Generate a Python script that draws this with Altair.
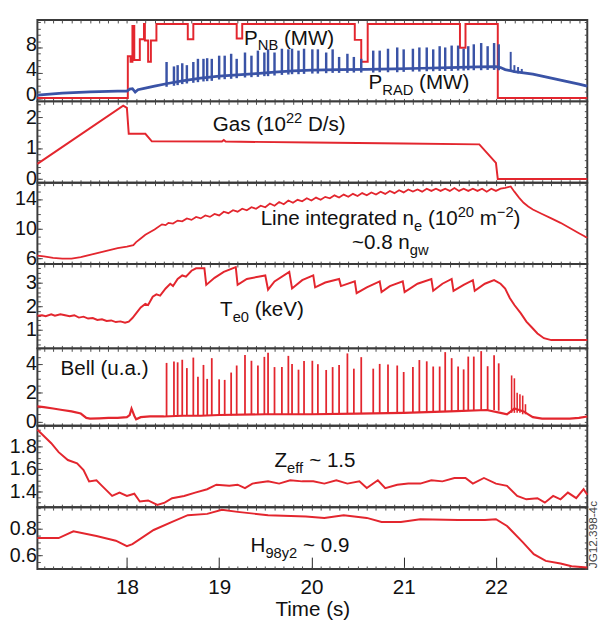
import altair as alt
import pandas as pd

# ---------------- data ----------------
# Panel 1: NBI power (step) and radiated power
pnb_t = [17.03, 18.01, 18.04, 18.06, 18.08, 18.14, 18.185, 18.195, 18.23, 18.26, 18.32,
         18.66, 18.72, 19.19, 19.25, 20.47, 20.54, 20.61, 21.61, 21.67, 22.02, 22.99]
pnb_v = [0.0, 6.6, 5.75, 11.4, 6.0, 9.3, 11.7, 9.1, 5.75, 9.1, 11.7,
         9.3, 11.7, 9.4, 11.7, 9.2, 5.75, 11.7, 7.95, 11.7, 0.0, 0.0]

prad_t = [17.03, 17.3, 17.6, 17.9, 18.0, 18.03, 18.06, 18.09, 18.12, 18.2, 18.3, 18.44, 18.6,
          18.8, 19.0, 19.2, 19.4, 19.6, 19.8, 20.0, 20.3, 20.6, 20.9, 21.2, 21.5, 21.8, 22.0,
          22.05, 22.1, 22.2, 22.3, 22.4, 22.5, 22.6, 22.7, 22.8, 22.9, 22.99]
prad_v = [0.47, 0.79, 0.99, 1.1, 1.1, 1.41, 1.47, 0.94, 1.31, 1.57, 1.88, 2.3, 2.72,
          3.14, 3.46, 3.66, 3.87, 4.08, 4.29, 4.4, 4.5, 4.55, 4.6, 4.71, 4.82, 4.92, 4.97,
          4.82, 4.5, 4.19, 3.98, 3.77, 3.46, 3.14, 2.83, 2.51, 2.2, 1.88]

# ELM times (shared by P_RAD bursts and Bell spikes)
elm_t = [18.43, 18.51, 18.55, 18.60, 18.65, 18.72, 18.77, 18.83, 18.87, 18.92,
         19.00, 19.06, 19.13, 19.19, 19.28, 19.35, 19.42, 19.49, 19.53, 19.60,
         19.68, 19.75, 19.79, 19.86, 19.92, 20.01, 20.07, 20.16, 20.23, 20.30,
         20.39, 20.46, 20.54, 20.67, 20.74, 20.83, 20.93, 21.00, 21.10, 21.17,
         21.25, 21.32, 21.39, 21.45, 21.52, 21.59, 21.65, 21.70, 21.76, 21.84,
         21.91, 21.98, 22.03]
prad_pk = [5.7, 5.0, 5.2, 5.5, 5.2, 5.7, 6.2, 6.2, 6.3, 6.2,
           6.7, 6.7, 7.0, 6.2, 7.2, 6.7, 7.5, 7.2, 7.7, 7.2,
           7.8, 7.7, 7.8, 7.5, 7.8, 7.7, 7.7, 7.2, 7.7, 6.5,
           7.0, 6.5, 6.2, 7.5, 7.5, 7.8, 8.0, 7.7, 7.8, 8.0,
           8.0, 7.7, 8.2, 8.0, 8.3, 8.3, 7.8, 8.2, 8.5, 8.7,
           8.2, 8.7, 8.5]
prad_lo = [1.78, 1.94, 2.04, 2.2, 2.3, 2.41, 2.51, 2.62, 2.67, 2.72,
           2.93, 2.98, 3.04, 3.14, 3.25, 3.3, 3.35, 3.46, 3.46, 3.56,
           3.66, 3.72, 3.77, 3.77, 3.82, 3.87, 3.87, 3.93, 3.98, 3.98,
           3.98, 4.03, 4.03, 4.03, 4.08, 4.08, 4.08, 4.14, 4.19, 4.19,
           4.24, 4.24, 4.29, 4.29, 4.29, 4.35, 4.35, 4.4, 4.4, 4.4,
           4.45, 4.45, 4.4]
prad_tail_t = [22.16, 22.20, 22.24, 22.28]
prad_tail_pk = [7.3, 5.2, 4.9, 4.6]
prad_tail_lo = [4.2, 4.0, 3.9, 3.8]

# Panel 2: gas
gas_t = [17.03, 17.96, 18.00, 18.02, 18.20, 18.27, 19.03, 19.05, 19.07, 20.0, 21.0, 21.82, 22.00, 22.02, 22.99]
gas_v = [0.49, 2.37, 2.30, 1.46, 1.46, 1.22, 1.21, 1.26, 1.21, 1.18, 1.15, 1.12, 0.52, 0.0, 0.0]

# Panel 3: line integrated density (saw-tooth read during the ELMy phase)
ne_t = [17.03, 17.1, 17.2, 17.3, 17.4, 17.5, 17.6, 17.7, 17.8, 17.9, 18.0,
        18.07, 18.1, 18.15, 18.2, 18.3, 18.38, 18.42,
        18.45, 18.5, 18.55, 18.6, 18.65, 18.7, 18.75, 18.8, 18.85, 18.9, 18.95,
        19.0, 19.05, 19.1, 19.15, 19.2, 19.25, 19.3, 19.35, 19.4, 19.45,
        19.5, 19.55, 19.6, 19.65, 19.7, 19.75, 19.8, 19.85, 19.9, 19.95,
        20.0, 20.05, 20.1, 20.15, 20.2, 20.25, 20.3, 20.35, 20.4, 20.45,
        20.5, 20.55, 20.6, 20.65, 20.7, 20.75, 20.8, 20.85, 20.9, 20.95,
        21.0, 21.05, 21.1, 21.15, 21.2, 21.25, 21.3, 21.35, 21.4, 21.45,
        21.5, 21.55, 21.6, 21.65, 21.7, 21.75, 21.8, 21.85, 21.9, 21.95,
        22.0, 22.05, 22.1,
        22.16, 22.2, 22.25, 22.3, 22.35, 22.4, 22.5, 22.6, 22.7, 22.8, 22.9, 22.99]
ne_v = [6.4, 6.3, 6.1, 6.0, 6.0, 6.2, 6.5, 6.8, 7.1, 7.4, 7.6,
        7.8, 8.2, 8.7, 9.2, 9.9, 10.6, 10.5,
        10.8, 10.7, 11.1, 11.0, 11.4, 11.2, 11.6, 11.4, 11.8, 11.6, 12.0,
        11.8, 12.3, 12.1, 12.5, 12.3, 12.7, 12.5, 12.9, 12.7, 13.1,
        12.9, 13.4, 13.1, 13.6, 13.3, 13.8, 13.5, 13.9, 13.7, 14.1,
        13.8, 14.2, 13.9, 14.3, 14.1, 14.5, 14.2, 14.6, 14.3, 14.7,
        14.4, 14.8, 14.5, 14.9, 14.6, 15.0, 14.7, 15.1, 14.8, 15.2,
        14.9, 15.3, 15.0, 15.3, 15.0, 15.4, 15.1, 15.4, 15.1, 15.4,
        15.1, 15.5, 15.1, 15.4, 15.1, 15.4, 15.1, 15.4, 15.0, 15.4,
        15.1, 15.4, 15.5,
        15.7, 15.0, 14.2, 13.5, 13.0, 12.6, 12.0, 11.4, 10.8, 10.1, 9.4, 8.8]

# Panel 4: central electron temperature
te_t = [17.03, 17.08, 17.12, 17.18, 17.22, 17.28, 17.33, 17.38, 17.43, 17.48,
        17.53, 17.58, 17.63, 17.68, 17.73, 17.78, 17.83, 17.88, 17.93, 17.98,
        18.02, 18.06, 18.10, 18.15, 18.20, 18.23, 18.28, 18.32, 18.36, 18.42,
        18.47, 18.50, 18.55, 18.60, 18.64, 18.70, 18.75, 18.84,
        18.86, 18.95, 19.05, 19.18,
        19.20, 19.30, 19.50,
        19.53, 19.60, 19.76,
        19.79, 19.90, 20.02,
        20.04, 20.15, 20.30,
        20.32, 20.47,
        20.49, 20.60, 20.74,
        20.76, 20.85, 20.99,
        21.01, 21.15, 21.30,
        21.32, 21.42, 21.52,
        21.54, 21.65, 21.75,
        21.77, 21.88, 21.98,
        22.05, 22.10, 22.15, 22.20, 22.27, 22.33, 22.39, 22.45, 22.52, 22.60, 22.99]
te_v = [1.60, 1.62, 1.58, 1.66, 1.60, 1.66, 1.62, 1.58, 1.62, 1.52,
        1.56, 1.48, 1.50, 1.42, 1.45, 1.38, 1.40, 1.33, 1.36, 1.30,
        1.35, 1.50, 1.70, 1.95, 2.10, 2.05, 2.40, 2.50, 2.45, 2.75,
        2.95, 2.85, 3.15, 3.30, 3.25, 3.50, 3.60, 3.60,
        2.90, 3.20, 3.45, 3.65,
        2.90, 3.15, 3.30,
        2.70, 3.05, 3.45,
        2.75, 3.10, 3.30,
        2.80, 3.00, 3.15,
        2.85, 3.05,
        2.55, 2.80, 3.05,
        2.60, 2.85, 3.05,
        2.60, 2.95, 3.15,
        2.65, 2.95, 3.15,
        2.65, 2.90, 3.10,
        2.65, 2.95, 3.10,
        2.95, 2.75, 2.35, 2.05, 1.70, 1.35, 1.10, 0.85, 0.65, 0.57, 0.57]

# Panel 5: Bell (Be II) signal
bell_t = [17.03, 17.1, 17.2, 17.3, 17.4, 17.5, 17.56, 17.6, 17.7, 17.8, 17.9, 18.0,
          18.03, 18.05, 18.08, 18.1, 18.15, 18.25, 18.4, 18.6, 18.8, 19.0, 19.5, 20.0,
          20.5, 21.0, 21.5, 21.9, 22.05, 22.12, 22.2, 22.3, 22.35, 22.4, 22.5, 22.6,
          22.7, 22.8, 22.9, 22.99]
bell_v = [1.05, 1.0, 0.9, 0.8, 0.7, 0.55, 0.25, 0.2, 0.22, 0.25, 0.25, 0.3,
          0.45, 0.9, 0.4, 0.15, 0.3, 0.35, 0.35, 0.4, 0.4, 0.45, 0.5, 0.5,
          0.55, 0.6, 0.7, 0.8, 0.6, 0.5, 0.9, 0.7, 0.5, 0.3, 0.2, 0.2,
          0.2, 0.2, 0.25, 0.35]
bell_pk = [4.07, 4.16, 4.11, 4.29, 3.71, 4.44, 3.11, 3.93, 2.96, 4.40,
           2.93, 2.89, 3.40, 3.89, 4.62, 4.22, 3.89, 4.49, 4.78, 3.78,
           3.78, 4.56, 4.00, 3.60, 4.20, 4.22, 3.98, 3.58, 3.78, 3.93,
           4.73, 3.67, 4.47, 3.67, 4.00, 3.96, 3.89, 3.44, 3.78, 4.27,
           4.18, 3.82, 3.82, 4.82, 4.40, 3.82, 3.62, 4.51, 4.51, 4.89,
           3.84, 4.60, 4.04]
bell_lo = [0.35, 0.35, 0.36, 0.37, 0.38, 0.38, 0.39, 0.4, 0.4, 0.4,
           0.42, 0.42, 0.43, 0.44, 0.45, 0.45, 0.46, 0.47, 0.47, 0.48,
           0.48, 0.49, 0.5, 0.5, 0.5, 0.5, 0.5, 0.52, 0.52, 0.53,
           0.54, 0.55, 0.55, 0.56, 0.57, 0.58, 0.59, 0.6, 0.62, 0.63,
           0.64, 0.65, 0.66, 0.68, 0.69, 0.7, 0.72, 0.74, 0.75, 0.77,
           0.78, 0.8, 0.75]
bell_tail_t = [22.17, 22.20, 22.23, 22.26, 22.29, 22.32]
bell_tail_pk = [3.2, 3.0, 2.0, 1.9, 1.8, 1.2]
bell_tail_lo = [0.6, 0.6, 0.6, 0.6, 0.5, 0.5]

# Panel 6: Zeff
zeff_t = [17.03, 17.18, 17.26, 17.36, 17.46, 17.53, 17.59, 17.67, 17.73, 17.84,
          17.92, 18.0, 18.08, 18.14, 18.23, 18.33, 18.41, 18.49, 18.62, 18.74,
          18.87, 18.97, 19.11, 19.2, 19.28, 19.36, 19.53, 19.65, 19.77, 19.9,
          20.02, 20.14, 20.27, 20.39, 20.52, 20.6, 20.72, 20.8, 20.93, 21.05,
          21.18, 21.3, 21.42, 21.55, 21.67, 21.75, 21.87, 22.0, 22.12, 22.23,
          22.33, 22.45, 22.53, 22.62, 22.7, 22.78, 22.87, 22.95, 22.99]
zeff_v = [1.95, 1.83, 1.75, 1.68, 1.65, 1.59, 1.49, 1.50, 1.45, 1.36,
          1.39, 1.36, 1.38, 1.31, 1.32, 1.28, 1.30, 1.34, 1.36, 1.39,
          1.42, 1.46, 1.45, 1.46, 1.43, 1.47, 1.49, 1.47, 1.50, 1.49,
          1.49, 1.47, 1.50, 1.47, 1.49, 1.43, 1.50, 1.43, 1.46, 1.47,
          1.47, 1.50, 1.49, 1.52, 1.52, 1.47, 1.52, 1.47, 1.45, 1.36,
          1.33, 1.34, 1.30, 1.36, 1.33, 1.39, 1.34, 1.42, 1.37]

# Panel 7: H98y2
h_t = [17.03, 17.26, 17.42, 17.67, 17.88, 18.0, 18.06, 18.29, 18.49, 18.66,
       18.87, 19.03, 19.2, 19.53, 19.94, 20.14, 20.35, 20.6, 20.76, 20.97,
       21.18, 21.59, 21.88, 22.0, 22.12, 22.29, 22.41, 22.54, 22.7, 22.82, 22.99]
h_v = [0.73, 0.73, 0.78, 0.745, 0.71, 0.67, 0.685, 0.79, 0.85, 0.90,
       0.91, 0.94, 0.925, 0.90, 0.89, 0.88, 0.90, 0.88, 0.85, 0.85,
       0.87, 0.865, 0.865, 0.87, 0.82, 0.70, 0.61, 0.56, 0.54, 0.52, 0.51]

# ---------------- styling ----------------
XDOM = [17.03, 22.99]
W = 561
RED = "#e3262e"
BLUE = "#3a53a6"
INK = "#111111"
TICK = "#4a4a4a"
FONT = "Liberation Sans"
XMINOR = [round(17.1 + 0.1 * i, 1) for i in range(59)]
XMAJOR = [18, 19, 20, 21, 22]

AW = {' ': .278, '(': .333, ')': .333, '/': .278, '.': .278, '~': .584, '\u2212': .584,
      '-': .333, 'A': .667, 'B': .667, 'D': .722, 'G': .778, 'H': .722, 'L': .556,
      'M': .833, 'N': .722, 'P': .667, 'R': .722, 'T': .611, 'V': .667, 'W': .944,
      'Z': .611, 'a': .556, 'b': .556, 'd': .556, 'e': .556, 'f': .278, 'g': .556,
      'i': .222, 'k': .5, 'l': .222, 'm': .833, 'n': .556, 'r': .333, 's': .5,
      't': .278, 'u': .556, 'w': .722, 'y': .5}


def twidth(s, size):
    return sum(AW.get(c, .556) for c in s) * size


def xsc():
    return alt.Scale(domain=XDOM, nice=False, zero=False)


def ax_minor(orient, values, size=3):
    return alt.Axis(orient=orient, values=values, labels=False, ticks=True, tickSize=size,
                    offset=-size, domain=False, grid=False, title=None, tickColor=TICK,
                    tickWidth=1, minExtent=0)


def ax_left_major(values, fmt, loff=0):
    return alt.Axis(orient='left', values=values, format=fmt, tickSize=5, offset=-5,
                    labelPadding=1, labelFontSize=20, labelFont=FONT, labelColor=INK,
                    labelOffset=loff, domain=False, grid=False, title=None,
                    tickColor=TICK, tickWidth=1)


AX_BOTTOM_MAJOR = alt.Axis(orient='bottom', values=XMAJOR, format='d', tickSize=12, offset=-12,
                           labelPadding=8, labelFontSize=21, labelFont=FONT, labelColor=INK,
                           domain=False, grid=False, tickColor="#222", tickWidth=1,
                           titleFontSize=21, titleFont=FONT, titleFontWeight='normal',
                           titleColor=INK, titlePadding=2)


def enc(ysc, yfield='v'):
    return dict(x=alt.X('t:Q', scale=xsc(), axis=None),
                y=alt.Y(yfield + ':Q', scale=ysc, axis=None))


def line(t, v, ysc, color=RED, width=2.0, interp='linear'):
    df = pd.DataFrame({'t': t, 'v': v})
    return alt.Chart(df).mark_line(color=color, strokeWidth=width, interpolate=interp).encode(**enc(ysc))


def spikes(t, lo, hi, ysc, color=RED, width=1.6):
    df = pd.DataFrame({'t': t, 'lo': lo, 'hi': hi})
    return alt.Chart(df).mark_rule(color=color, strokeWidth=width).encode(
        x=alt.X('t:Q', scale=xsc(), axis=None),
        y=alt.Y('lo:Q', scale=ysc, axis=None), y2='hi:Q')


def rich(t, v, segs, ysc):
    out = []
    x = 0.0
    df = pd.DataFrame({'t': [t], 'v': [v]})
    for s, kind in segs:
        size = 21 if kind == 'n' else 15
        lead = len(s) - len(s.lstrip(' '))
        x += lead * AW[' '] * size
        s = s.lstrip(' ')
        dy = {'n': 0, 'sub': 6, 'sup': -8}[kind]
        out.append(alt.Chart(df).mark_text(text=s, align='left', baseline='alphabetic', font=FONT,
                                           fontSize=size, dx=x, dy=dy, color=INK).encode(**enc(ysc)))
        x += twidth(s, size)
    return out


def panel(host_t, host_v, ydom, ymaj, ymin, fmt, h, visuals_fn, last=False, loff=0):
    ysc = alt.Scale(domain=ydom, nice=False, zero=False)
    hdf = pd.DataFrame({'t': host_t, 'v': host_v})

    def host(xax, yax, title=None):
        return alt.Chart(hdf).mark_point(opacity=0, size=1).encode(
            x=alt.X('t:Q', scale=xsc(), axis=xax, title=title),
            y=alt.Y('v:Q', scale=ysc, axis=yax, title=None))

    layers = [
        host(AX_BOTTOM_MAJOR if last else ax_minor('bottom', XMINOR), ax_left_major(ymaj, fmt, loff),
             'Time (s)' if last else None),
        host(ax_minor('top', XMINOR), ax_minor('right', ymin)),
        host(ax_minor('bottom', XMINOR) if last else None, ax_minor('left', ymin)),
    ]
    layers += visuals_fn(ysc)
    return alt.layer(*layers).resolve_axis(x='independent', y='independent').properties(width=W, height=h)


def p1(ysc):
    return ([line(pnb_t, pnb_v, ysc, RED, 2.0, 'step-after'),
             line(prad_t, prad_v, ysc, BLUE, 2.8),
             spikes(elm_t, prad_lo, prad_pk, ysc, BLUE, 2.5),
             spikes(prad_tail_t, prad_tail_lo, prad_tail_pk, ysc, BLUE, 2.0)]
            + rich(19.27, 8.45, [("P", 'n'), ("NB", 'sub'), (" (MW)", 'n')], ysc)
            + rich(20.62, 1.35, [("P", 'n'), ("RAD", 'sub'), (" (MW)", 'n')], ysc))


def p2(ysc):
    return ([line(gas_t, gas_v, ysc)]
            + rich(18.93, 1.56, [("Gas (10", 'n'), ("22", 'sup'), (" D/s)", 'n')], ysc))


def p3(ysc):
    return ([line(ne_t, ne_v, ysc, RED, 1.8)]
            + rich(19.45, 10.5, [("Line integrated n", 'n'), ("e", 'sub'), (" (10", 'n'),
                                 ("20", 'sup'), (" m", 'n'), ("\u22122", 'sup'), (")", 'n')], ysc)
            + rich(20.44, 7.31, [("~0.8 n", 'n'), ("gw", 'sub')], ysc))


def p4(ysc):
    return ([line(te_t, te_v, ysc)]
            + rich(19.01, 1.59, [("T", 'n'), ("e0", 'sub'), (" (keV)", 'n')], ysc))


def p5(ysc):
    return ([line(bell_t, bell_v, ysc, RED, 2.2),
             spikes(elm_t, bell_lo, bell_pk, ysc, RED, 1.8),
             spikes(bell_tail_t, bell_tail_lo, bell_tail_pk, ysc, RED, 1.6)]
            + rich(17.28, 3.22, [("Bell (u.a.)", 'n')], ysc))


def p6(ysc):
    return ([line(zeff_t, zeff_v, ysc)]
            + rich(19.60, 1.62, [("Z", 'n'), ("eff", 'sub'), (" ~ 1.5", 'n')], ysc))


def p7(ysc):
    tag = alt.Chart(pd.DataFrame({'t': [23.054], 'v': [0.505]})).mark_text(
        text="JG12.398-4c", angle=270, align='left', baseline='middle', font=FONT,
        fontSize=12, color="#444").encode(**enc(ysc))
    return ([line(h_t, h_v, ysc), tag]
            + rich(19.34, 0.624, [("H", 'n'), ("98y2", 'sub'), (" ~ 0.9", 'n')], ysc))


panels = [
    panel(pnb_t, pnb_v, [-0.53, 12.34], [0, 4, 8], list(range(0, 13)), 'd', 83, p1, loff=-3),
    panel(gas_t, gas_v, [-0.12, 2.51], [0, 1, 2], [round(0.2 * i, 1) for i in range(13)], 'd', 83, p2),
    panel(ne_t, ne_v, [5.25, 16.2], [6, 10, 14], list(range(6, 17)), 'd', 83, p3),
    panel(te_t, te_v, [0.22, 3.78], [1, 2, 3], [round(0.4 + 0.2 * i, 1) for i in range(17)], 'd', 86, p4),
    panel(bell_t, bell_v, [-0.3, 5.08], [0, 2, 4], [0.5 * i for i in range(11)], 'd', 79, p5),
    panel(zeff_t, zeff_v, [1.26, 1.985], [1.4, 1.6, 1.8], [round(1.3 + 0.05 * i, 2) for i in range(14)], '.1f', 83, p6),
    panel(h_t, h_v, [0.50, 0.96], [0.6, 0.8], [round(0.5 + 0.05 * i, 2) for i in range(10)], '.1f', 63, p7, last=True),
]

chart = alt.vconcat(*panels, spacing=0, bounds='flush').properties(
    padding={'left': 0, 'top': 4, 'right': 0, 'bottom': 0}
).configure_view(stroke="#3a3a3a", strokeWidth=2).configure_axis(
    labelFont=FONT, titleFont=FONT
).configure_text(font=FONT)

chart.save("out.html", embed_options={"renderer": "svg", "actions": False})
